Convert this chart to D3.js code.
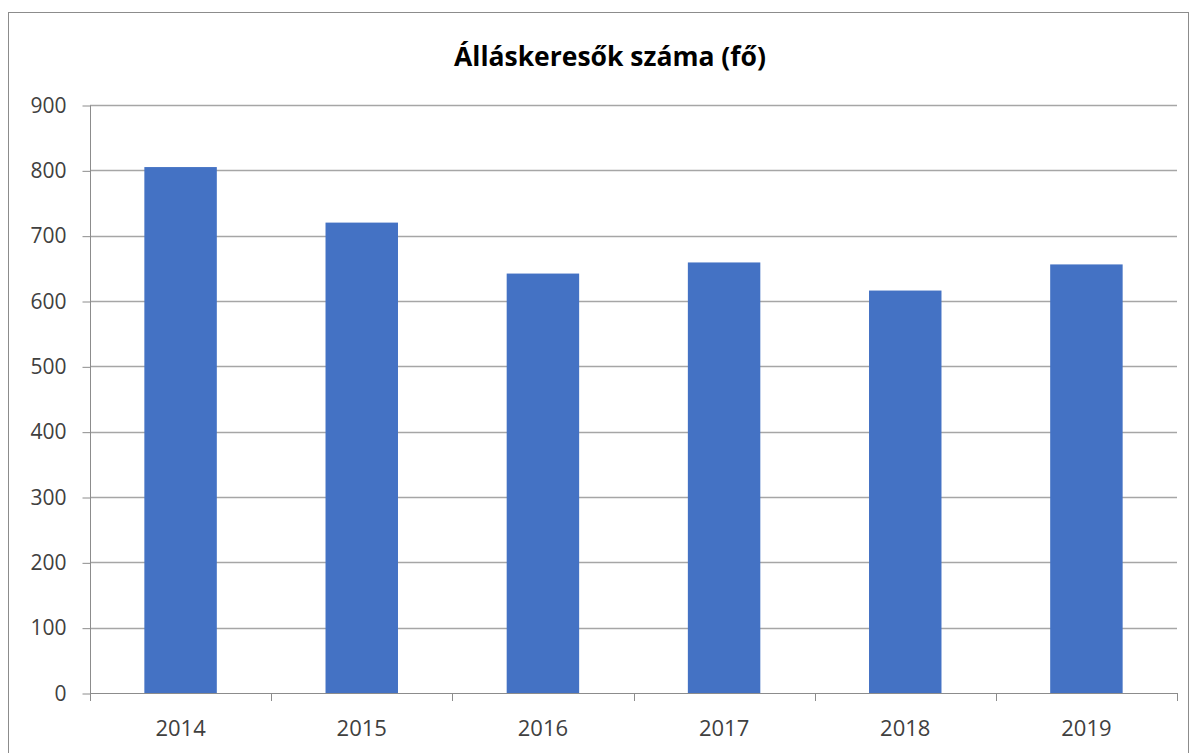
<!DOCTYPE html>
<html><head><meta charset="utf-8">
<script src="https://cdn.jsdelivr.net/npm/d3@7"></script>
<style>body{margin:0;background:#fff}svg{display:block}</style>
</head><body><svg id="c" width="1196" height="753"></svg>
<script>
const categories = ["2014","2015","2016","2017","2018","2019"];
const values = [805, 720, 642, 659, 616, 656];
const yTicks = [0,100,200,300,400,500,600,700,800,900];
const title = "Álláskeresők száma (fő)";

const svg = d3.select("#c");
const font = "'Open Sans', 'Liberation Sans', sans-serif";
svg.append("rect").attr("x",8.5).attr("y",12.5).attr("width",1180).attr("height",750)
  .attr("fill","#fff").attr("stroke","#8c8c8c").attr("stroke-width",1);

const L=90, R=1177, T=105, B=693;
const x = d3.scaleBand().domain(categories).range([L,R]).padding(0);
const y = d3.scaleLinear().domain([0,900]).range([B,T]);

// gridlines
svg.append("g").selectAll("line").data(yTicks.filter(d=>d>0)).join("line")
  .attr("x1",L).attr("x2",R).attr("y1",d=>Math.round(y(d))+0.5).attr("y2",d=>Math.round(y(d))+0.5)
  .attr("stroke","#a6a6a6").attr("stroke-width",1.3);

// bars
const bw = x.bandwidth()*0.4;
svg.append("g").selectAll("rect").data(values).join("rect")
  .attr("x",(d,i)=>x(categories[i])+x.bandwidth()/2-bw/2)
  .attr("width",bw)
  .attr("y",d=>y(d)).attr("height",d=>B-y(d))
  .attr("fill","#4472c4");

// y axis
const ya = d3.axisLeft(y).tickValues(yTicks).tickSize(8).tickPadding(16);
const gy = svg.append("g").attr("transform",`translate(${L+0.5},0.5)`).call(ya);
gy.select(".domain").attr("stroke","#8c8c8c").attr("d",`M0,${T}V${B}`);
gy.selectAll(".tick line").attr("stroke","#8c8c8c");
gy.selectAll(".tick text").attr("font-family",font).attr("font-size",21).attr("fill","#404040");

// x axis
const xa = d3.axisBottom(x).tickSize(0).tickPadding(27);
const gx = svg.append("g").attr("transform",`translate(0,${B+0.5})`).call(xa);
gx.select(".domain").attr("stroke","#8c8c8c").attr("d",`M${L},0H${R}`);
gx.selectAll(".tick text").attr("font-family",font).attr("font-size",22).attr("fill","#404040");
// category boundary ticks
const bounds = categories.map(c=>x(c)).concat([R]);
svg.append("g").selectAll("line").data(bounds).join("line")
  .attr("x1",d=>Math.round(d)+0.5).attr("x2",d=>Math.round(d)+0.5)
  .attr("y1",B).attr("y2",B+8).attr("stroke","#8c8c8c");

// title
svg.append("text").attr("x",(452+768)/2).attr("y",66).attr("text-anchor","middle")
  .attr("font-family",font).attr("font-weight","bold").attr("font-size",26.5).attr("fill","#000")
  .text(title);
</script></body></html>
